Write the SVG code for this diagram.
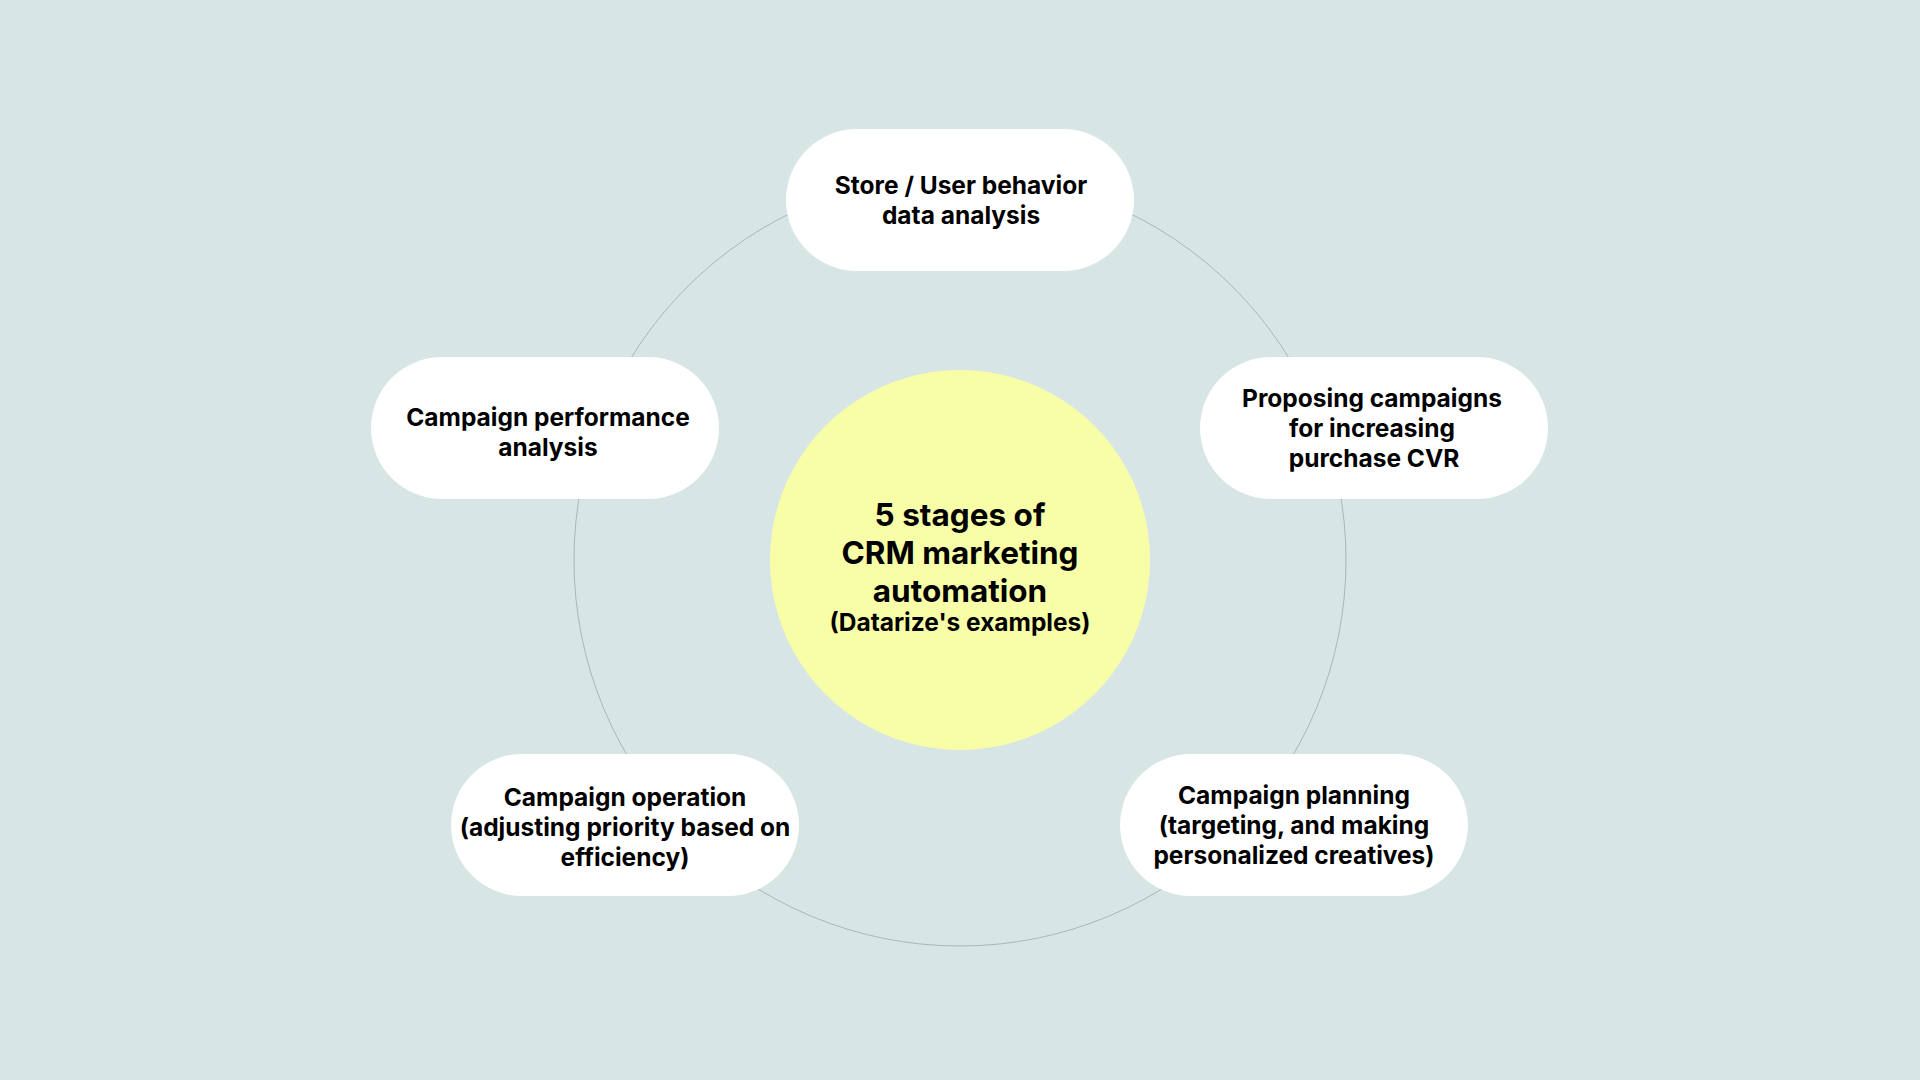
<svg xmlns="http://www.w3.org/2000/svg" width="1920" height="1080" viewBox="0 0 1920 1080">
<style>
.pill{fill:#ffffff}
.t{font-family:Inter,"Liberation Sans",sans-serif;font-weight:700;font-size:24.5px;fill:#000;text-anchor:middle;dominant-baseline:central}
.c{font-size:31.5px}
</style>
<rect width="1920" height="1080" fill="#d7e5e5"/>
<g id="connectors"><circle cx="960" cy="560" r="386" fill="none" stroke="#a9b7b7" stroke-width="1"/></g>
<g id="center"><circle cx="960" cy="560" r="190" fill="#f8fea8"/>
<text class="t c" x="960" y="514">5 stages of</text>
<text class="t c" x="960" y="552">CRM marketing</text>
<text class="t c" x="960" y="590">automation</text>
<text class="t" x="960" y="622">(Datarize's examples)</text></g>
<g id="n1"><rect class="pill" x="786" y="129" width="348" height="142" rx="71"/>
<text class="t" x="961" y="185">Store / User behavior</text><text class="t" x="961" y="215">data analysis</text></g>
<g id="n2"><rect class="pill" x="1200" y="357" width="348" height="142" rx="71"/>
<text class="t" x="1372" y="398">Proposing campaigns</text><text class="t" x="1372" y="428">for increasing</text><text class="t" x="1374" y="458">purchase CVR</text></g>
<g id="n3"><rect class="pill" x="1120" y="754" width="348" height="142" rx="71"/>
<text class="t" x="1294" y="795">Campaign planning</text><text class="t" x="1294" y="825">(targeting, and making</text><text class="t" x="1294" y="855">personalized creatives)</text></g>
<g id="n4"><rect class="pill" x="451" y="754" width="348" height="142" rx="71"/>
<text class="t" x="625" y="797">Campaign operation</text><text class="t" x="625" y="827">(adjusting priority based on</text><text class="t" x="625" y="857">efficiency)</text></g>
<g id="n5"><rect class="pill" x="371" y="357" width="348" height="142" rx="71"/>
<text class="t" x="548" y="417">Campaign performance</text><text class="t" x="548" y="447">analysis</text></g>
</svg>
